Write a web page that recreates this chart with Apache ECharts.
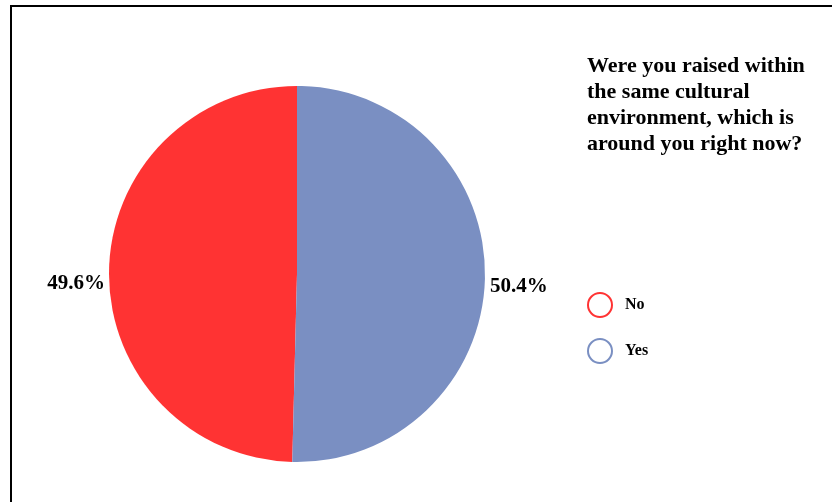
<!DOCTYPE html>
<html>
<head>
<meta charset="utf-8">
<script src="https://cdn.jsdelivr.net/npm/echarts@6/dist/echarts.min.js"></script>
<style>
  html, body { margin: 0; padding: 0; background: #fff; }
  #chart { width: 832px; height: 502px; }
</style>
</head>
<body>
<div id="chart"></div>
<script>
// answers and their shares (%)
const categories = ['No', 'Yes'];
const shares = [49.6, 50.4];
const colors = ['#ff3333', '#7a8fc2'];
const titleText = 'Were you raised within\nthe same cultural\nenvironment, which is\naround you right now?';

const chart = echarts.init(document.getElementById('chart'));

const option = {
  backgroundColor: '#fff',
  animation: false,
  title: {
    text: titleText,
    left: 582,
    top: 48,
    textStyle: {
      fontFamily: 'Liberation Serif',
      fontWeight: 'bold',
      fontSize: 22,
      lineHeight: 26,
      color: '#000'
    }
  },
  legend: {
    orient: 'vertical',
    left: 582,
    top: 287,
    icon: 'emptyCircle',
    itemWidth: 24,
    itemHeight: 24,
    itemGap: 20,
    data: categories,
    itemStyle: { borderWidth: 3.5 },
    textStyle: {
      fontFamily: 'Liberation Serif',
      fontWeight: 'bold',
      fontSize: 16,
      color: '#000',
      padding: [0, 0, 0, 8]
    }
  },
  graphic: [
    { type: 'line', shape: { x1: 11, y1: 6, x2: 832, y2: 6 }, style: { stroke: '#000', lineWidth: 2 } },
    { type: 'line', shape: { x1: 11, y1: 5, x2: 11, y2: 502 }, style: { stroke: '#000', lineWidth: 2 } }
  ],
  series: [
    {
      type: 'pie',
      center: [297, 274],
      radius: 188,
      startAngle: 90,
      clockwise: false,
      data: categories.map((name, i) => ({
        name,
        value: shares[i],
        itemStyle: { color: colors[i] }
      })),
      label: {
        show: true,
        position: 'outside',
        formatter: (p) => p.value.toFixed(1) + '%',
        fontFamily: 'Liberation Serif',
        fontWeight: 'bold',
        fontSize: 21,
        color: '#000'
      },
      labelLine: { show: false, length: 2, length2: 0 },
      labelLayout: (params) => ({ dx: params.dataIndex === 0 ? 3 : -2, dy: params.dataIndex === 0 ? 12 : 10 }),
      emphasis: { disabled: true }
    }
  ]
};

chart.setOption(option);
</script>
</body>
</html>
